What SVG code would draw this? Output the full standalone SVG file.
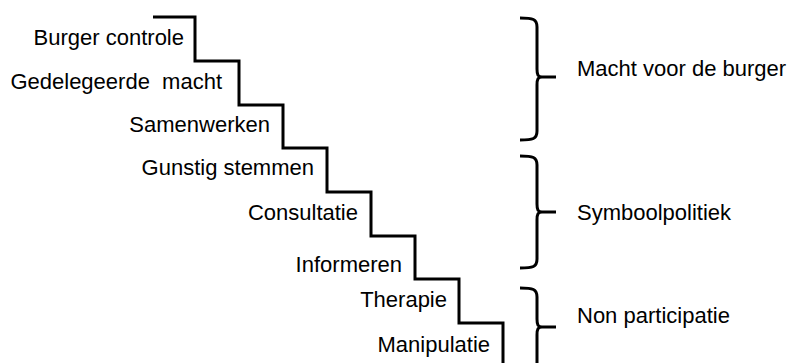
<svg xmlns="http://www.w3.org/2000/svg" width="792" height="363" viewBox="0 0 792 363">
<style>
.lbl{font-family:"Liberation Sans",Arial,sans-serif;font-size:22px;fill:#000;white-space:pre}
.r{text-anchor:end}
.line{fill:none;stroke:#000;stroke-width:3}
</style>
<rect width="792" height="363" fill="#fff"/>
<g id="connectors">
<path id="stairs" class="line" stroke-linejoin="miter" d="M153,17 H195 V61 H239 V105 H283 V148 H327 V192 H371 V236 H415 V279 H459 V323 H503 V365"/>
</g>
<g id="step-burger-controle"><text class="lbl r" x="184" y="45">Burger controle</text></g>
<g id="step-gedelegeerde-macht"><text class="lbl r" x="222" y="89">Gedelegeerde  macht</text></g>
<g id="step-samenwerken"><text class="lbl r" x="270" y="132">Samenwerken</text></g>
<g id="step-gunstig-stemmen"><text class="lbl r" x="314" y="175">Gunstig stemmen</text></g>
<g id="step-consultatie"><text class="lbl r" x="358" y="220">Consultatie</text></g>
<g id="step-informeren"><text class="lbl r" x="402" y="272">Informeren</text></g>
<g id="step-therapie"><text class="lbl r" x="447" y="307">Therapie</text></g>
<g id="step-manipulatie"><text class="lbl r" x="490" y="352">Manipulatie</text></g>
<g id="group-macht">
<path class="line" d="M520,18 C533,18 537,19 537,27 V69 C537,75 538,77 542,77 H556 M542,77 C538,77 537,79 537,85 V131 C537,139 533,140 520,140"/>
<text class="lbl" x="577" y="76">Macht voor de burger</text>
</g>
<g id="group-symbool">
<path class="line" d="M520,156 C533,156 537,157 537,165 V204 C537,210 538,212 542,212 H556 M542,212 C538,212 537,214 537,220 V259 C537,267 533,268 520,268"/>
<text class="lbl" x="577" y="220">Symboolpolitiek</text>
</g>
<g id="group-non">
<path class="line" d="M520,288 C533,288 537,289 537,297 V319 C537,325 538,327 542,327 H556 M542,327 C538,327 537,329 537,335 V365"/>
<text class="lbl" x="577" y="323">Non participatie</text>
</g>
</svg>
